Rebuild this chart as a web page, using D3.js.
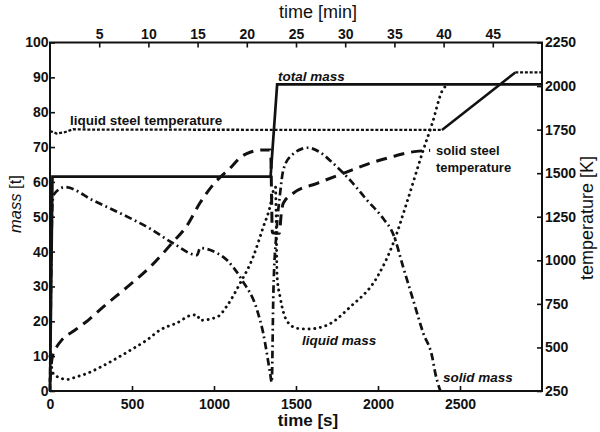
<!DOCTYPE html>
<html><head><meta charset="utf-8">
<script src="https://cdn.jsdelivr.net/npm/d3@7"></script>
<style>
body{margin:0;background:#fff}
svg{display:block}
text{font-family:"Liberation Sans",Arial,Helvetica,sans-serif;fill:#111}
</style>
</head><body>
<svg id="c" width="600" height="432"></svg>
<script>
// ---- data ----
const secTicks = [0,500,1000,1500,2000,2500];
const minTicks = [5,10,15,20,25,30,35,40,45];
const massTicks = [0,10,20,30,40,50,60,70,80,90,100];
const tempTicks = [250,500,750,1000,1250,1500,1750,2000,2250];

const totalMassT = [0,15,1345,1385,3000];
const totalMassV = [0,61.5,61.5,88,88];

const liquidTempT = [0,40,90,140,250,2390,2837,3000];
const liquidTempV = [1742,1728,1735,1752,1750,1748,2078,2078];

const solidTempT = [0,10,20,41,71,153,234,323,470,610,750,836,915,1000,1110,1160,1220,1290,1345,1356,1398,1410,1422,1483,1629,1788,1952,2074,2196,2318];
const solidTempV = [300,420,466,504,542,600,657,731,846,961,1105,1200,1330,1440,1540,1590,1620,1633,1633,1158,1155,1265,1327,1385,1442,1499,1557,1591,1620,1631];

const liquidMassT = [0,20,60,102,163,224,305,407,508,590,671,772,872,897,915,1021,1080,1159,1238,1300,1342,1362,1375,1385,1403,1446,1507,1574,1690,1830,1995,2093,2178,2276,2331,2392,2430];
const liquidMassV = [10,5,3.8,3.3,4.1,5,6.8,9.4,12.2,14.6,17.5,19.5,21.8,21.8,20.3,21.3,24.5,30.9,38.4,47,53,57.5,58.5,32.7,27,20,18,17.8,18.9,24.1,32.7,42.4,54.4,69.1,76.8,86.2,88];

const solidMassT = [0,15,25,92,262,450,610,750,897,915,1021,1080,1171,1263,1300,1342,1352,1362,1380,1403,1422,1470,1571,1647,1727,1830,1934,2032,2093,2154,2215,2276,2331,2349,2380];
const solidMassV = [0,54,56.5,58.5,54.7,50.5,46.6,42.4,39,41,39.5,37.5,31.8,23.2,16.6,5.2,2.5,28,45,56.7,63.3,67.5,69.8,68.5,65.3,60.5,54.7,49.5,45,35.5,26,16.6,9.7,5.2,0];

// ---- layout ----
const L=50, R=542, T=42.5, B=391;
const svg = d3.select("#c");
const xS = d3.scaleLinear().domain([0,3000]).range([L,R]);
const xM = d3.scaleLinear().domain([0,50]).range([L,R]);
const yM = d3.scaleLinear().domain([0,100]).range([B,T]);
const yK = d3.scaleLinear().domain([250,2250]).range([B,T]);

function styleAxis(g){
  g.select(".domain").remove();
  g.selectAll(".tick line").attr("stroke","#111").attr("stroke-width",1.6);
  g.selectAll(".tick text").attr("font-size",14).attr("fill","#111").attr("font-weight","bold")
    .attr("font-family","'Liberation Sans',Arial,sans-serif");
}
svg.append("g").attr("transform",`translate(0,${B})`)
  .call(d3.axisBottom(xS).tickValues(secTicks).tickSizeInner(-5).tickSizeOuter(0).tickPadding(8).tickFormat(d3.format("d")))
  .call(styleAxis);
svg.append("g").attr("transform",`translate(0,${T})`)
  .call(d3.axisTop(xM).tickValues(minTicks).tickSizeInner(-5).tickSizeOuter(0).tickPadding(3.5).tickFormat(d3.format("d")))
  .call(styleAxis);
svg.append("g").attr("transform",`translate(${L},0)`)
  .call(d3.axisLeft(yM).tickValues(massTicks).tickSizeInner(-5).tickSizeOuter(0).tickPadding(1.5).tickFormat(d3.format("d")))
  .call(styleAxis);
svg.append("g").attr("transform",`translate(${R},0)`)
  .call(d3.axisRight(yK).tickValues(tempTicks).tickSizeInner(-5).tickSizeOuter(0).tickPadding(3).tickFormat(d3.format("d")))
  .call(styleAxis);

svg.append("rect").attr("x",L).attr("y",T).attr("width",R-L).attr("height",B-T)
  .attr("fill","none").attr("stroke","#111").attr("stroke-width",2);

// ---- lines ----
const zip = (a,b)=>a.map((t,i)=>[t,b[i]]);
const lineM = d3.line().x(d=>xS(d[0])).y(d=>yM(d[1]));
const lineMs = d3.line().x(d=>xS(d[0])).y(d=>yM(d[1])).curve(d3.curveMonotoneX);
const lineK = d3.line().x(d=>xS(d[0])).y(d=>yK(d[1])).curve(d3.curveMonotoneX);
const lineKl = d3.line().x(d=>xS(d[0])).y(d=>yK(d[1]));

const gL = svg.append("g").attr("fill","none").attr("stroke","#111");

const lt = zip(liquidTempT,liquidTempV);
gL.append("path").attr("d",lineKl(lt.slice(0,6))).attr("stroke-width",2.3).attr("stroke-dasharray","3,1.8");
gL.append("path").attr("d",lineKl(lt.slice(5,7))).attr("stroke-width",2.5);
gL.append("path").attr("d",lineKl(lt.slice(6))).attr("stroke-width",2.3).attr("stroke-dasharray","3,1.8");

gL.append("path").attr("d",lineK(zip(solidTempT,solidTempV))).attr("stroke-width",3).attr("stroke-dasharray","11,7");

gL.append("path").attr("d",lineMs(zip(liquidMassT,liquidMassV))).attr("stroke-width",2.9)
  .attr("stroke-linecap","round").attr("stroke-dasharray","0.1,5.6");

gL.append("path").attr("d",lineMs(zip(solidMassT,solidMassV))).attr("stroke-width",2.7)
  .attr("stroke-dasharray","7.5,3.5,1.8,3.5");

gL.append("path").attr("d",lineM(zip(totalMassT,totalMassV))).attr("stroke-width",2.7);

// ---- labels ----
function lab(txt,x,y,opts={}){
  return svg.append("text").attr("x",x).attr("y",y).text(txt)
    .attr("font-size",opts.size||13.5).attr("font-weight",opts.weight||"bold")
    .attr("font-style",opts.style||"normal").attr("text-anchor",opts.anchor||"start")
    .attr("fill","#111");
}
lab("total mass",278,80.5,{style:"italic"});
lab("liquid steel temperature",70,124.5);
lab("solid steel",436,154.5,{size:13});
lab("temperature",436,171.5,{size:13});
lab("liquid mass",302,344.5,{style:"italic"});
lab("solid mass",443,381.5,{style:"italic"});

lab("time [min]",318,18,{size:18,weight:"normal",anchor:"middle"});
lab("time [s]",308,426,{size:17,weight:"bold",anchor:"middle"});

const ml = svg.append("text").attr("transform","translate(21,204) rotate(-90)")
  .attr("text-anchor","middle").attr("font-size",16.5).attr("fill","#111");
ml.append("tspan").attr("font-style","italic").attr("fill","#111").text("mass ");
ml.append("tspan").attr("fill","#111").text("[t]");

svg.append("text").attr("transform","translate(593,218) rotate(-90)")
  .attr("text-anchor","middle").attr("font-size",18).attr("fill","#111").text("temperature [K]");
</script>
</body></html>
